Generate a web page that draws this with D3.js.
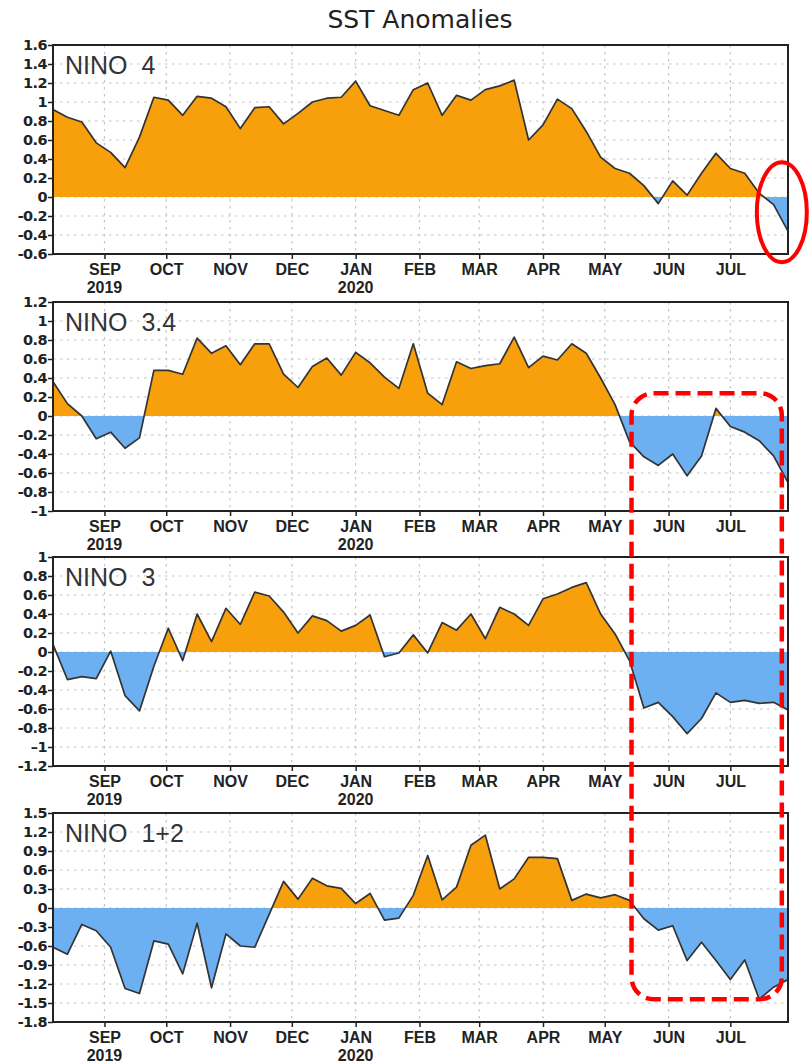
<!DOCTYPE html>
<html>
<head>
<meta charset="utf-8">
<script src="https://cdn.jsdelivr.net/npm/d3@7"></script>
<style>
  body { margin: 0; background: #fff; }
  svg text { font-family: "Liberation Sans", Arial, sans-serif; }
</style>
</head>
<body>
<svg id="chart" width="809" height="1063"></svg>
<script>
// weekly OISST anomalies, centred on Wednesdays
const firstWeek = "2019-08-07";
const weekCount = 52;

const nino4Values = [0.92, 0.84, 0.79, 0.57, 0.47, 0.31, 0.63, 1.05, 1.02, 0.86,
  1.06, 1.04, 0.95, 0.72, 0.94, 0.95, 0.77, 0.88, 1.00, 1.04,
  1.05, 1.22, 0.96, 0.91, 0.86, 1.13, 1.20, 0.86, 1.07, 1.02,
  1.13, 1.17, 1.23, 0.60, 0.76, 1.03, 0.93, 0.69, 0.42, 0.30,
  0.25, 0.12, -0.07, 0.17, 0.02, 0.25, 0.46, 0.30, 0.25, 0.04,
  -0.08, -0.36];
const nino34Values = [0.36, 0.13, 0.00, -0.24, -0.17, -0.34, -0.23, 0.48, 0.48, 0.44,
  0.82, 0.66, 0.74, 0.54, 0.76, 0.76, 0.44, 0.30, 0.52, 0.61,
  0.43, 0.67, 0.56, 0.41, 0.29, 0.76, 0.24, 0.12, 0.57, 0.50,
  0.53, 0.55, 0.83, 0.51, 0.63, 0.59, 0.76, 0.66, 0.40, 0.12,
  -0.27, -0.43, -0.52, -0.40, -0.63, -0.42, 0.08, -0.11, -0.17, -0.26,
  -0.42, -0.70];
const nino3Values = [0.08, -0.29, -0.26, -0.28, 0.01, -0.46, -0.62, -0.15, 0.25, -0.09,
  0.40, 0.11, 0.46, 0.29, 0.63, 0.59, 0.42, 0.20, 0.38, 0.33,
  0.22, 0.28, 0.39, -0.05, -0.01, 0.18, -0.01, 0.31, 0.23, 0.40,
  0.14, 0.47, 0.40, 0.28, 0.56, 0.61, 0.68, 0.73, 0.40, 0.19,
  -0.09, -0.59, -0.53, -0.68, -0.86, -0.70, -0.43, -0.53, -0.51, -0.54,
  -0.53, -0.61];
const nino12Values = [-0.62, -0.73, -0.26, -0.36, -0.62, -1.27, -1.35, -0.52, -0.57, -1.04,
  -0.24, -1.26, -0.41, -0.60, -0.62, -0.10, 0.42, 0.14, 0.47, 0.35,
  0.31, 0.07, 0.23, -0.19, -0.16, 0.20, 0.83, 0.13, 0.33, 0.99,
  1.15, 0.30, 0.46, 0.80, 0.80, 0.78, 0.12, 0.22, 0.16, 0.21,
  0.12, -0.17, -0.35, -0.28, -0.83, -0.54, -0.83, -1.13, -0.82, -1.44,
  -1.25, -1.13];

const nino4Ticks = [1.6, 1.4, 1.2, 1, 0.8, 0.6, 0.4, 0.2, 0, -0.2, -0.4, -0.6];
const nino4TickLabels = ["1.6", "1.4", "1.2", "1", "0.8", "0.6", "0.4", "0.2", "0", "-0.2", "-0.4", "-0.6"];
const nino34Ticks = [1.2, 1, 0.8, 0.6, 0.4, 0.2, 0, -0.2, -0.4, -0.6, -0.8, -1];
const nino34TickLabels = ["1.2", "1", "0.8", "0.6", "0.4", "0.2", "0", "-0.2", "-0.4", "-0.6", "-0.8", "\u20131"];
const nino3Ticks = [1, 0.8, 0.6, 0.4, 0.2, 0, -0.2, -0.4, -0.6, -0.8, -1, -1.2];
const nino3TickLabels = ["1", "0.8", "0.6", "0.4", "0.2", "0", "-0.2", "-0.4", "-0.6", "-0.8", "\u20131", "-1.2"];
const nino12Ticks = [1.5, 1.2, 0.9, 0.6, 0.3, 0, -0.3, -0.6, -0.9, -1.2, -1.5, -1.8];
const nino12TickLabels = ["1.5", "1.2", "0.9", "0.6", "0.3", "0", "-0.3", "-0.6", "-0.9", "-1.2", "-1.5", "-1.8"];

const monthTicks = ["2019-09-01", "2019-10-01", "2019-11-01", "2019-12-01", "2020-01-01",
  "2020-02-01", "2020-03-01", "2020-04-01", "2020-05-01", "2020-06-01", "2020-07-01"];
const monthLabels = ["SEP", "OCT", "NOV", "DEC", "JAN", "FEB", "MAR", "APR", "MAY", "JUN", "JUL"];
const yearDates = ["2019-09-01", "2020-01-01"];
const yearLabels = ["2019", "2020"];

const panels = [
  { name: "NINO  4", values: nino4Values, ticks: nino4Ticks, labels: nino4TickLabels, top: 45 },
  { name: "NINO  3.4", values: nino34Values, ticks: nino34Ticks, labels: nino34TickLabels, top: 302 },
  { name: "NINO  3", values: nino3Values, ticks: nino3Ticks, labels: nino3TickLabels, top: 557 },
  { name: "NINO  1+2", values: nino12Values, ticks: nino12Ticks, labels: nino12TickLabels, top: 813 }
];

const ORANGE = "#f7a00c";
const BLUE = "#6cb0f2";
const left = 53, right = 788, panelHeight = 209;

const parse = d3.utcParse("%Y-%m-%d");
const start = parse(firstWeek);
const dates = d3.range(weekCount).map(i => d3.utcDay.offset(start, 7 * i));

const svg = d3.select("#chart");

const x = d3.scaleUtc()
  .domain([dates[0], dates[dates.length - 1]])
  .range([left, right]);

svg.append("text")
  .attr("x", 420)
  .attr("y", 28)
  .attr("text-anchor", "middle")
  .style("font-family", "'DejaVu Sans', sans-serif")
  .style("font-size", "25px")
  .style("fill", "#222")
  .text("SST Anomalies");

panels.forEach((p, k) => {
  const y = d3.scaleLinear()
    .domain([d3.min(p.ticks), d3.max(p.ticks)])
    .range([p.top + panelHeight, p.top]);
  p.y = y;
  const g = svg.append("g");
  const clipId = "plot-" + k;

  g.append("clipPath").attr("id", clipId)
    .append("rect")
    .attr("x", left).attr("y", p.top)
    .attr("width", right - left).attr("height", panelHeight);

  // dotted grid
  g.append("g")
    .selectAll("line")
    .data(p.ticks.slice(1, -1))
    .join("line")
    .attr("x1", left).attr("x2", right)
    .attr("y1", d => y(d)).attr("y2", d => y(d))
    .attr("stroke", "#c4c4c4")
    .attr("stroke-width", 1.2)
    .attr("stroke-dasharray", "2.5,4.5");
  g.append("g")
    .selectAll("line")
    .data(monthTicks)
    .join("line")
    .attr("x1", d => x(parse(d))).attr("x2", d => x(parse(d)))
    .attr("y1", p.top).attr("y2", p.top + panelHeight)
    .attr("stroke", "#c4c4c4")
    .attr("stroke-width", 1.2)
    .attr("stroke-dasharray", "2.5,4.5");

  const series = p.values.map((v, i) => ({ date: dates[i], value: v }));
  const area = d3.area()
    .x(d => x(d.date))
    .y0(y(0))
    .y1(d => y(d.value));

  const posId = "pos-" + k, negId = "neg-" + k;
  g.append("clipPath").attr("id", posId)
    .append("rect")
    .attr("x", left).attr("y", p.top)
    .attr("width", right - left).attr("height", y(0) - p.top);
  g.append("clipPath").attr("id", negId)
    .append("rect")
    .attr("x", left).attr("y", y(0))
    .attr("width", right - left).attr("height", p.top + panelHeight - y(0));

  g.append("path")
    .datum(series)
    .attr("clip-path", `url(#${posId})`)
    .attr("fill", ORANGE)
    .attr("d", area);
  g.append("path")
    .datum(series)
    .attr("clip-path", `url(#${negId})`)
    .attr("fill", BLUE)
    .attr("d", area);

  g.append("path")
    .datum(series)
    .attr("clip-path", `url(#${clipId})`)
    .attr("fill", "none")
    .attr("stroke", "#333")
    .attr("stroke-width", 1.7)
    .attr("stroke-linejoin", "round")
    .attr("d", d3.line().x(d => x(d.date)).y(d => y(d.value)));

  // frame
  g.append("rect")
    .attr("x", left).attr("y", p.top)
    .attr("width", right - left).attr("height", panelHeight)
    .attr("fill", "none")
    .attr("stroke", "#222")
    .attr("stroke-width", 2);

  const yAxis = g.append("g")
    .attr("transform", `translate(${left},0)`)
    .call(d3.axisLeft(y)
      .tickValues(p.ticks)
      .tickSize(5)
      .tickPadding(1)
      .tickFormat((d, i) => p.labels[i]));
  yAxis.select(".domain").remove();
  yAxis.selectAll("line").attr("stroke", "#222").attr("stroke-width", 1.5);
  yAxis.selectAll("text")
    .style("font-family", "'DejaVu Sans', sans-serif")
    .style("font-weight", "bold")
    .style("font-size", "14.5px")
    .style("letter-spacing", "-0.6px")
    .attr("fill", "#222");

  const xAxis = g.append("g")
    .attr("transform", `translate(0,${p.top + panelHeight})`)
    .call(d3.axisBottom(x)
      .tickValues(monthTicks.map(parse))
      .tickSize(5)
      .tickFormat((d, i) => monthLabels[i]));
  xAxis.select(".domain").remove();
  xAxis.selectAll("line").attr("stroke", "#222").attr("stroke-width", 1.5);
  xAxis.selectAll("text")
    .attr("y", 20.5).attr("dy", 0)
    .style("font-family", "'Liberation Sans Narrow', 'Liberation Sans', sans-serif")
    .style("font-weight", "bold")
    .style("font-size", "16px")
    .attr("fill", "#222");

  g.append("g")
    .selectAll("text")
    .data(yearDates)
    .join("text")
    .attr("x", d => x(parse(d)))
    .attr("y", p.top + panelHeight + 38.5)
    .attr("text-anchor", "middle")
    .style("font-family", "'Liberation Sans Narrow', 'Liberation Sans', sans-serif")
    .style("font-weight", "bold")
    .style("font-size", "16px")
    .attr("fill", "#222")
    .text((d, i) => yearLabels[i]);

  g.append("text")
    .attr("x", 65)
    .attr("y", p.top + 29)
    .style("white-space", "pre")
    .style("font-size", "25px")
    .attr("fill", "#333")
    .text(p.name);
});

// red highlights
const circleAt = { date: "2020-07-26", value: -0.16 };
svg.append("ellipse")
  .attr("cx", x(parse(circleAt.date)))
  .attr("cy", panels[0].y(circleAt.value))
  .attr("rx", 25).attr("ry", 50)
  .attr("fill", "none")
  .attr("stroke", "#f00")
  .attr("stroke-width", 4);

const boxFrom = "2020-05-14", boxTo = "2020-07-26";
const boxTop = panels[1].y(0.24), boxBottom = panels[3].y(-1.44);
svg.append("rect")
  .attr("x", x(parse(boxFrom)))
  .attr("y", boxTop)
  .attr("width", x(parse(boxTo)) - x(parse(boxFrom)))
  .attr("height", boxBottom - boxTop)
  .attr("rx", 22).attr("ry", 22)
  .attr("fill", "none")
  .attr("stroke", "#f00")
  .attr("stroke-width", 4.5)
  .attr("stroke-dasharray", "15,7");
</script>
</body>
</html>
